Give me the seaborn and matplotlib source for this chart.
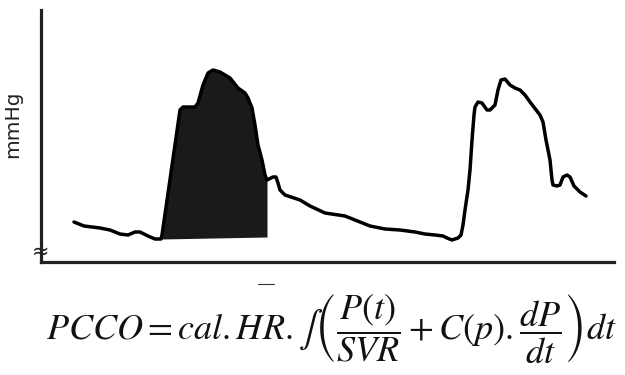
import numpy as np
import pandas as pd
import seaborn as sns
import matplotlib.pyplot as plt

# arterial pressure trace (time in arbitrary units, pressure in arbitrary mmHg)
time = [33, 43, 59, 69, 79, 87, 94, 99, 107, 114, 120,
        121, 139, 142, 154, 157, 162, 167, 172, 179, 189, 197, 204, 207, 211, 214, 217, 221, 224, 226,
        232, 235, 237, 239, 244, 259, 269, 284, 304, 314, 329, 344, 359, 374, 384, 394, 402, 406, 411, 417,
        420, 422, 424, 427, 429, 431, 433, 434, 437, 441, 446, 449, 454, 457, 460, 464, 469, 474, 479, 484,
        489, 499, 502, 505, 509, 511, 512, 516, 519, 522, 526, 529, 533, 539, 545]
pressure = [40, 36, 34, 32, 28, 27, 30, 30, 26, 23, 23,
            27, 152, 155, 155, 159, 177, 189, 192, 190, 184, 174, 169, 164, 154, 137, 117, 102, 87, 82,
            85, 85, 79, 72, 67, 62, 56, 49, 46, 42, 36, 33, 32, 30, 28, 27, 26, 24, 22, 24,
            27, 37, 52, 72, 92, 122, 147, 155, 160, 159, 152, 152, 157, 172, 182, 183, 177, 174, 172, 167,
            160, 147, 140, 122, 102, 82, 77, 76, 77, 85, 87, 85, 76, 70, 66]
fill_start, fill_end = 120, 226   # shaded systolic area

df = pd.DataFrame({"time": time, "pressure": pressure})

sns.set_style("white")
plt.rcParams["mathtext.fontset"] = "stix"

fig = plt.figure(figsize=(6.25, 3.75), dpi=100)
ax = fig.add_axes([41 / 625, 113 / 375, 573 / 625, 252 / 375])

sns.lineplot(data=df, x="time", y="pressure", color="black", linewidth=2.5, ax=ax)

# systolic area under the curve, closed by a straight base line
seg = df[(df.time >= fill_start) & (df.time <= fill_end)]
base = np.interp(seg.time, [fill_start, fill_end], [23, 25])
ax.fill_between(seg.time, seg.pressure, base, color="#1a1a1a", linewidth=0)

ax.set_xlim(0, 573)
ax.set_ylim(0, 252)
ax.set_xticks([])
ax.set_yticks([])
ax.set_xlabel("")
ax.set_ylabel("mmHg", fontsize=14.5, family="DejaVu Sans", color="#222222")
ax.yaxis.set_label_coords(-0.033, 0.548)
for side in ["top", "right"]:
    ax.spines[side].set_visible(False)
for side in ["left", "bottom"]:
    ax.spines[side].set_linewidth(2.3)
    ax.spines[side].set_color("#222222")

# axis break on the y-axis
ax.text(0, 10, "≈", fontsize=15, ha="center", va="center", color="#222222",
        clip_on=False, transform=ax.get_yaxis_transform())

# hidden "Time" label peeking out above the formula
fig.add_artist(plt.Line2D([258 / 625, 274 / 625], [1 - 284 / 375] * 2, color="#333333", lw=0.8))

formula = (r"$PCCO = cal.HR.\int\left(\dfrac{P(t)}{SVR} + C(p).\dfrac{dP}{dt}\right)dt$")
fig.text(331 / 625, 1 - 329 / 375, formula, fontsize=26, ha="center", va="center", color="#111111")

fig.savefig("out.png", dpi=100)
